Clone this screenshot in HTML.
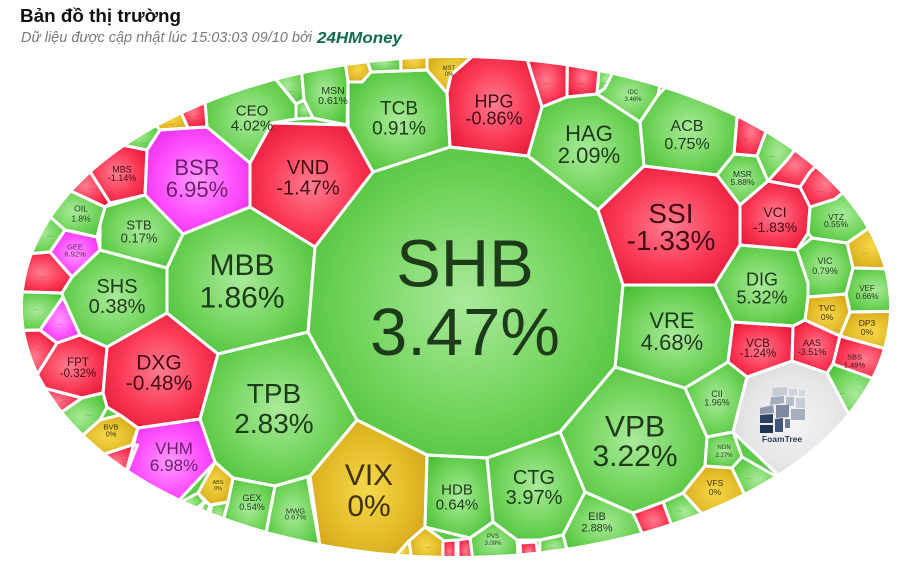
<!DOCTYPE html>
<html><head><meta charset="utf-8">
<style>
html,body{margin:0;padding:0;background:#fff;}
body{width:897px;height:573px;overflow:hidden;}
svg{display:block;font-family:"Liberation Sans","DejaVu Sans",sans-serif;}
.tg{fill:#1d3b19}.tr{fill:#420b14}.tm{fill:#6a1d6a}.ty{fill:#3f3104}
.d{font-size:6.5px;opacity:.55}
</style></head><body>
<svg id="s" width="897" height="573" viewBox="0 0 897 573" xmlns="http://www.w3.org/2000/svg">
<defs>
<radialGradient id="gG" cx="50%" cy="50%" r="62%"><stop offset="0" stop-color="#aaea9b"/><stop offset="0.55" stop-color="#74d55e"/><stop offset="1" stop-color="#48bf34"/></radialGradient>
<radialGradient id="gR" cx="50%" cy="50%" r="62%"><stop offset="0" stop-color="#ff7d90"/><stop offset="0.55" stop-color="#fb3b58"/><stop offset="1" stop-color="#e51535"/></radialGradient>
<radialGradient id="gM" cx="50%" cy="50%" r="62%"><stop offset="0" stop-color="#ff9bff"/><stop offset="0.55" stop-color="#ff52ff"/><stop offset="1" stop-color="#ea2aea"/></radialGradient>
<radialGradient id="gY" cx="50%" cy="50%" r="62%"><stop offset="0" stop-color="#f6d84a"/><stop offset="0.55" stop-color="#e4bd2a"/><stop offset="1" stop-color="#cfa116"/></radialGradient>
<radialGradient id="gW" cx="50%" cy="50%" r="62%"><stop offset="0" stop-color="#f5f5f6"/><stop offset="0.6" stop-color="#e6e6e8"/><stop offset="1" stop-color="#d3d4d7"/></radialGradient>
<clipPath id="cp"><ellipse cx="456" cy="307" rx="433" ry="249"/></clipPath>
</defs>

<text x="20" y="22" font-size="18" font-weight="bold" fill="#111" textLength="161" lengthAdjust="spacingAndGlyphs">Bản đồ thị trường</text>
<text x="21" y="42" font-size="14.5" font-style="italic" fill="#7a7a7a" textLength="291" lengthAdjust="spacingAndGlyphs">Dữ liệu được cập nhật lúc 15:03:03 09/10 bởi</text>
<text x="317" y="43" font-size="16" font-style="italic" font-weight="bold" fill="#0d6b4e" textLength="85" lengthAdjust="spacingAndGlyphs">24HMoney</text>

<g clip-path="url(#cp)">
<ellipse cx="456" cy="307" rx="433" ry="249" fill="#5dcb47"/>
<g id="cells"></g>
<g id="borders" fill="none" stroke="#ffffff" stroke-width="3" stroke-linejoin="round"></g>
</g>

<!-- FoamTree logo -->
<g>
<polygon points="773,388 787,387 787,395 772,396" fill="#c5cad3"/>
<polygon points="789,389 797,389 797,395 789,396" fill="#cdd2da"/>
<polygon points="799,390 805,390 805,396 799,396" fill="#d3d7de"/>
<polygon points="771,397 784,396 784,403 770,405" fill="#a4adbb"/>
<polygon points="786,397 794,397 794,406 786,406" fill="#b7bec9"/>
<polygon points="796,398 805,398 805,408 796,408" fill="#c8cdd5"/>
<polygon points="760,408 773,405 774,413 760,414" fill="#8c98ab"/>
<polygon points="776,405 789,405 789,417 776,418" fill="#7e8ba0"/>
<polygon points="791,409 805,409 805,420 791,420" fill="#a6afbd"/>
<polygon points="760,415 773,414 773,423 760,423" fill="#2e4260"/>
<polygon points="775,419 783,418 783,432 775,432" fill="#41557a"/>
<polygon points="760,425 773,425 773,433 760,433" fill="#1e3350"/>
<polygon points="785,419 790,419 790,428 785,428" fill="#6a7a93"/>
<text x="782" y="442" font-size="8.5" font-weight="bold" fill="#2c3e5c" text-anchor="middle">FoamTree</text>
</g>

<g text-anchor="middle">
<text class="tg" x="465" y="286.6" font-size="67">SHB</text>
<text class="tg" x="465" y="355.1" font-size="67">3.47%</text>
<text class="tg" x="274" y="403" font-size="28">TPB</text>
<text class="tg" x="274" y="433" font-size="28">2.83%</text>
<text class="tg" x="242" y="274.8" font-size="30">MBB</text>
<text class="tg" x="242" y="307.5" font-size="30">1.86%</text>
<text class="tg" x="635" y="436.5" font-size="30">VPB</text>
<text class="tg" x="635" y="465.8" font-size="30">3.22%</text>
<text class="ty" x="369" y="484.8" font-size="30">VIX</text>
<text class="ty" x="369" y="515.8" font-size="30">0%</text>
<text class="tr" x="671" y="223" font-size="28">SSI</text>
<text class="tr" x="671" y="250" font-size="28">-1.33%</text>
<text class="tr" x="308" y="174.2" font-size="20">VND</text>
<text class="tr" x="308" y="194.7" font-size="20">-1.47%</text>
<text class="tm" x="197" y="174.9" font-size="22">BSR</text>
<text class="tm" x="197" y="196.9" font-size="22">6.95%</text>
<text class="tg" x="589" y="140.9" font-size="22">HAG</text>
<text class="tg" x="589" y="162.9" font-size="22">2.09%</text>
<text class="tr" x="159" y="369.6" font-size="21">DXG</text>
<text class="tr" x="159" y="390" font-size="21">-0.48%</text>
<text class="tm" x="174" y="454.1" font-size="17">VHM</text>
<text class="tm" x="174" y="471.1" font-size="17">6.98%</text>
<text class="tg" x="117" y="293.2" font-size="20">SHS</text>
<text class="tg" x="117" y="313.2" font-size="20">0.38%</text>
<text class="tg" x="672" y="327.9" font-size="22">VRE</text>
<text class="tg" x="672" y="349.9" font-size="22">4.68%</text>
<text class="tg" x="534" y="484.2" font-size="20">CTG</text>
<text class="tg" x="534" y="504.2" font-size="20">3.97%</text>
<text class="tg" x="762" y="285.5" font-size="18">DIG</text>
<text class="tg" x="762" y="303.5" font-size="18">5.32%</text>
<text class="tg" x="399" y="114.3" font-size="19">TCB</text>
<text class="tg" x="399" y="134.3" font-size="19">0.91%</text>
<text class="tr" x="494" y="107.5" font-size="18">HPG</text>
<text class="tr" x="494" y="124.5" font-size="18">-0.86%</text>
<text class="tg" x="687" y="130.8" font-size="16">ACB</text>
<text class="tg" x="687" y="148.8" font-size="16">0.75%</text>
<text class="tg" x="252" y="115.4" font-size="15">CEO</text>
<text class="tg" x="252" y="130.4" font-size="15">4.02%</text>
<text class="tr" x="775" y="217" font-size="14">VCI</text>
<text class="tr" x="775" y="232" font-size="14">-1.83%</text>
<text class="tg" x="457" y="494.4" font-size="15">HDB</text>
<text class="tg" x="457" y="509.4" font-size="15">0.64%</text>
<text class="tg" x="139" y="229.7" font-size="13">STB</text>
<text class="tg" x="139" y="242.4" font-size="13">0.17%</text>
<text class="tr" x="758" y="347.1" font-size="11.5">VCB</text>
<text class="tr" x="758" y="357.1" font-size="11.5">-1.24%</text>
<text class="tr" x="78" y="366.1" font-size="11.5">FPT</text>
<text class="tr" x="78" y="377.1" font-size="11.5">-0.32%</text>
<text class="tg" x="333" y="93.8" font-size="10.5">MSN</text>
<text class="tg" x="333" y="103.8" font-size="10.5">0.61%</text>
<text class="tg" x="717" y="397" font-size="9">CII</text>
<text class="tg" x="717" y="405.7" font-size="9">1.96%</text>
<text class="tr" x="122" y="172.5" font-size="9">MBS</text>
<text class="tr" x="122" y="181" font-size="9">-1.14%</text>
<text class="tg" x="81" y="211.4" font-size="8.5">OIL</text>
<text class="tg" x="81" y="221.4" font-size="8.5">1.8%</text>
<text class="tm" x="75" y="249.7" font-size="7.5">GEE</text>
<text class="tm" x="75" y="256.7" font-size="7.5">6.92%</text>
<text class="ty" x="111" y="429.7" font-size="7.5">BVB</text>
<text class="ty" x="111" y="436.7" font-size="7.5">0%</text>
<text class="ty" x="218" y="484" font-size="5.5">ABS</text>
<text class="ty" x="218" y="490" font-size="5.5">0%</text>
<text class="tg" x="252" y="501.2" font-size="9">GEX</text>
<text class="tg" x="252" y="510.2" font-size="9">0.54%</text>
<text class="tg" x="295.5" y="513.7" font-size="7.5">MWG</text>
<text class="tg" x="295.5" y="519.7" font-size="7.5">0.67%</text>
<text class="tg" x="493" y="538.2" font-size="6">PVS</text>
<text class="tg" x="493" y="545.2" font-size="6">3.09%</text>
<text class="tg" x="597" y="519.8" font-size="11">EIB</text>
<text class="tg" x="597" y="531.3" font-size="11">2.88%</text>
<text class="ty" x="715" y="486" font-size="8.5">VFS</text>
<text class="ty" x="715" y="495" font-size="8.5">0%</text>
<text class="tg" x="724" y="449.2" font-size="6">NGN</text>
<text class="tg" x="724" y="457.2" font-size="6">2.27%</text>
<text class="tg" x="633" y="94.2" font-size="6">IDC</text>
<text class="tg" x="633" y="101.2" font-size="6">3.46%</text>
<text class="ty" x="449" y="70.2" font-size="6">MST</text>
<text class="ty" x="449" y="76.2" font-size="6">0%</text>
<text class="tg" x="742.5" y="177" font-size="8.5">MSR</text>
<text class="tg" x="742.5" y="185" font-size="8.5">5.88%</text>
<text class="tg" x="836" y="220" font-size="8.5">VTZ</text>
<text class="tg" x="836" y="227" font-size="8.5">0.55%</text>
<text class="tg" x="825" y="264.2" font-size="9">VIC</text>
<text class="tg" x="825" y="274.2" font-size="9">0.79%</text>
<text class="tg" x="867" y="290.9" font-size="8">VEF</text>
<text class="tg" x="867" y="298.9" font-size="8">0.66%</text>
<text class="ty" x="827" y="311" font-size="8.5">TVC</text>
<text class="ty" x="827" y="320" font-size="8.5">0%</text>
<text class="ty" x="867" y="326" font-size="8.5">DP3</text>
<text class="ty" x="867" y="335" font-size="8.5">0%</text>
<text class="tr" x="812" y="346.2" font-size="9">AAS</text>
<text class="tr" x="812" y="355.2" font-size="9">-3.51%</text>
<text class="tr" x="854.5" y="359.7" font-size="7.5">SBS</text>
<text class="tr" x="854.5" y="367.7" font-size="7.5">1.49%</text>

<text class="tg d" x="292" y="92">...</text>
<text class="tr d" x="546" y="84">...</text>
<text class="tr d" x="581" y="84">...</text>
<text class="tg d" x="604" y="84">...</text>
<text class="tr d" x="746" y="140">...</text>
<text class="tg d" x="772" y="157">...</text>
<text class="tr d" x="791" y="174">...</text>
<text class="tr d" x="819" y="192">...</text>
<text class="ty d" x="865" y="254">...</text>
<text class="tg d" x="842" y="394">...</text>
<text class="tg d" x="749" y="479">...</text>
<text class="tg d" x="680" y="512">...</text>
<text class="tr d" x="651" y="523">...</text>
<text class="tg d" x="552" y="548">...</text>
<text class="ty d" x="428" y="548">...</text>
<text class="tg d" x="50" y="237">...</text>
<text class="tr d" x="43" y="278">...</text>
<text class="tg d" x="36" y="310">...</text>
<text class="tm d" x="61" y="325">...</text>
<text class="tr d" x="39" y="350">...</text>
<text class="tr d" x="64" y="402">...</text>
<text class="tg d" x="89" y="416">...</text>
<text class="tr d" x="124" y="460">...</text>
<text class="tr d" x="93" y="190">...</text>
<text class="tg d" x="145" y="144">...</text>
<text class="ty d" x="171" y="125">...</text>
<text class="tr d" x="198" y="117">...</text>
</g>
</svg>
<script>
(function(){
var C=[
['G','373,172 450,147 528,156 598,210 623,285 615,367 560,432 487,458 427,455 357,420 308,332 315,247'],
['G','348,82 362,82 371,72 401,71 427,70 447,93 450,147 373,172 348,127'],
['R','451,75 478,58b 523,62b 542,107 528,156 450,147 447,93'],
['Y','428,59b 478,58b 451,75 447,93 427,70'],
['Y','348,66b 368,63b 371,72 362,82 348,82'],
['G','368,63b 402,59b 401,71 371,72'],
['Y','402,59b 428,59b 427,70 401,71'],
['G','306,74b 348,66b 348,82 347,125 313,118 304,100'],
['G','277,81b 306,74b 304,100 296,104'],
['G','296,104 304,100 313,118 296,119'],
['G','209,99b 277,81b 296,104 296,119 272,123 250,163 207,127'],
['R','272,123 347,125 373,172 315,247 250,207 250,163'],
['R','185,111b 209,99b 207,127 188,128'],
['Y','157,124b 185,111b 188,128 160,130'],
['G','123,148b 157,124b 160,130 147,150'],
['M','160,130 188,128 207,127 250,163 250,207 183,234 145,195 147,150'],
['R','95,168b 123,148b 147,150 145,195 110,203'],
['R','72,190b 95,168b 110,203 105,207'],
['G','55,213b 72,190b 105,207 100,225 97,237 65,230'],
['G','39,236b 55,213b 65,230 50,252 31,256b'],
['M','50,252 65,230 97,237 100,250 72,277'],
['G','100,225 105,207 145,195 183,234 167,268 100,250'],
['R','31,256b 50,252 72,277 62,293 21,292b'],
['G','21,292b 62,293 63,297 40,330 24,330b'],
['M','40,330 63,297 80,335 57,343'],
['R','24,330b 40,330 57,343 45,382b'],
['G','62,293 72,277 100,250 167,268 167,313 107,347 80,335 63,297'],
['R','45,382b 57,343 80,335 107,347 103,393 82,398'],
['R','45,382b 82,398 74,412b'],
['G','74,412b 82,398 103,393 107,407 100,420 88,437b'],
['R','107,347 167,313 218,354 200,419 138,428 120,415 107,407 103,393'],
['Y','88,437b 100,420 120,415 138,428 132,445 107,452b'],
['R','107,452b 132,445 137.5,445 137,472b'],
['M','138,428 200,419 215,462 185,498b 137,472b'],
['G','183,234 250,207 315,247 308,332 218,354 167,313 167,268'],
['G','218,354 308,332 357,420 310,476 275,486 233,478 215,462 200,419'],
['Y','357,420 427,455 425,527 409,541 393,554b 327,540b 308,480 310,476'],
['G','275,486 310,476 327,540b 268,535b'],
['G','233,478 275,486 268,535b 232,516b 228,502'],
['Y','215,462 233,478 228,502 210,505 198,493'],
['G','185,498b 198,493 205,502 196,508b'],
['G','205,502 210,505 214,512b 202,510b'],
['G','212,505 228,502 232,516b 216,514b'],
['G','427,455 487,458 493,522 470,538 425,527'],
['G','487,458 560,432 585,492 563,535 540,540 517,540 493,522'],
['G','470,538 493,522 517,540 517,556b 473,558b'],
['R','443,541 456,540 456,558b 443,558b'],
['R','458,540 470,538 473,558b 458,558b'],
['Y','425,527 443,540 443,558b 413,558b 409,541'],
['Y','393,554b 409,541 413,558b'],
['R','520,543 536,542 537,554b 520,556b'],
['G','540,540 563,535 566,550b 538,554b'],
['G','585,492 633,513 638,531b 598,547b 566,550b 563,535'],
['R','633,513 663,502 668,525b 638,531b'],
['G','663,502 683,493 702,515b 668,525b'],
['Y','705,466 732,468 746,500b 702,515b 683,493'],
['G','707,437 733,432 742,457 732,468 705,466'],
['G','742,457 773,475b 746,500b 732,468'],
['G','560,432 615,367 685,388 707,437 705,466 683,493 663,502 633,513 585,492'],
['G','623,285 715,285 733,322 728,362 685,388 615,367'],
['G','685,388 728,362 747,377 733,432 707,437'],
['W','747,377 792,361 827,373 842,420b 773,475b 733,432'],
['R','733,322 793,326 792,361 747,377 728,362'],
['R','793,326 805,320 840,336 833,364 827,373 792,361'],
['G','833,364 872,380b 842,420b 827,373'],
['R','840,336 880,350b 872,380b 833,364'],
['Y','850,312 889,311b 880,350b 840,336'],
['Y','808,297 846,294 850,312 840,336 805,320'],
['G','853,268 886,270b 889,311b 850,312 846,294'],
['Y','847,243 864,225b 886,270b 853,268'],
['G','797,250 812,238 847,243 853,268 846,294 808,297 808,283'],
['G','810,207 835,199 840,190b 864,225b 847,243 812,238 808,233'],
['R','740,205 768,181 800,187 810,207 808,233 797,250 740,245'],
['R','800,187 810,172 812,164b 840,190b 835,199 810,207'],
['R','768,181 787,160 790,148b 812,164b 810,172 800,187'],
['G','757,156 762,128b 790,148b 787,160 768,181'],
['R','731,113b 762,128b 757,156 734,154'],
['G','717,175 734,154 757,156 768,181 740,205'],
['G','715,285 740,245 797,250 808,283 808,297 805,320 793,326 733,322'],
['R','598,210 644,166 717,175 740,205 740,245 715,285 623,285'],
['G','640,122 658,95 664,89b 731,113b 734,154 717,175 644,166'],
['G','542,107 567,97 597,94 640,122 644,166 598,210 528,156'],
['R','523,62b 564,66b 567,97 542,107'],
['R','564,66b 596,70b 597,94 567,97'],
['G','596,70b 611,74b 605,88 597,94'],
['G','611,74b 655,86b 658,95 640,122 597,94 605,88'],
['R','655,86b 664,89b 658,95']
];
var cx=456,cy=307,rx=433,ry=249,ns='http://www.w3.org/2000/svg';
var F={G:'url(#gG)',R:'url(#gR)',M:'url(#gM)',Y:'url(#gY)',W:'url(#gW)'};
var g=document.getElementById('cells'),w=document.getElementById('borders');
C.forEach(function(c){
  var pts=c[1].trim().split(/\s+/).map(function(t){
    var b=t.indexOf('b')>=0;var a=t.replace('b','').split(',').map(Number);
    if(b){var dx=(a[0]-cx)/rx,dy=(a[1]-cy)/ry,r=Math.sqrt(dx*dx+dy*dy),k=1.03/r;return [cx+(a[0]-cx)*k,cy+(a[1]-cy)*k];}
    return a;});
  var s=pts.map(function(p){return p[0].toFixed(1)+','+p[1].toFixed(1);}).join(' ');
  var e=document.createElementNS(ns,'polygon');e.setAttribute('points',s);e.setAttribute('fill',F[c[0]]);g.appendChild(e);
  var e2=document.createElementNS(ns,'polygon');e2.setAttribute('points',s);w.appendChild(e2);
});
})();
</script>
</body></html>
